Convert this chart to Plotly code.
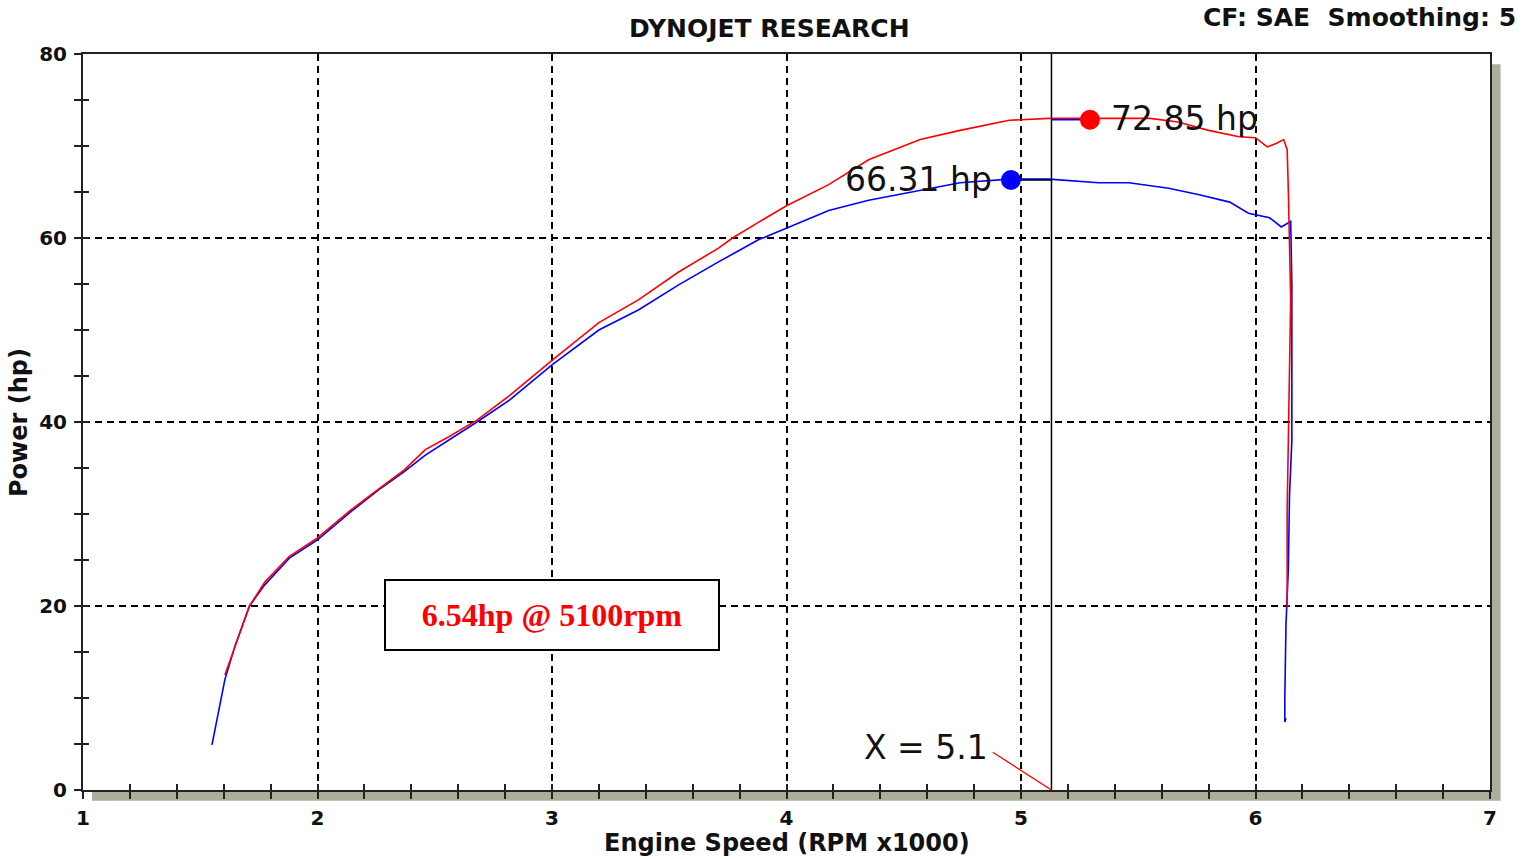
import plotly.graph_objects as go

# ---------------- data ----------------
blue_rpm = [1.55, 1.605, 1.65, 1.71, 1.775, 1.88, 2.0, 2.14, 2.27, 2.37, 2.46, 2.56, 2.68, 2.82,
            3.0, 3.2, 3.37, 3.54, 3.71, 3.88, 4.0, 4.18, 4.35, 4.57, 4.74, 4.95, 5.12, 5.33,
            5.46, 5.63, 5.76, 5.89, 5.97, 6.06, 6.11, 6.15, 6.155, 6.155, 6.145, 6.14, 6.13,
            6.125, 6.125, 6.13]
blue_hp = [4.9, 12.0, 15.8, 20.0, 22.3, 25.2, 27.2, 30.2, 32.8, 34.6, 36.4, 38.0, 40.0, 42.4,
           46.2, 50.0, 52.2, 54.9, 57.4, 59.8, 61.1, 63.0, 64.1, 65.2, 66.0, 66.4, 66.4, 66.0,
           66.0, 65.4, 64.7, 63.9, 62.7, 62.2, 61.2, 61.8, 55.0, 38.0, 32.0, 24.0, 18.0,
           10.0, 7.4, 7.8]

red_rpm = [1.605, 1.71, 1.775, 1.88, 2.0, 2.14, 2.27, 2.37, 2.46, 2.56, 2.68, 2.82, 3.0, 3.2,
           3.37, 3.54, 3.71, 3.77, 3.88, 4.0, 4.18, 4.35, 4.57, 4.74, 4.95, 5.12, 5.29, 5.55,
           5.67, 5.8, 5.93, 6.0, 6.05, 6.09, 6.12, 6.135, 6.14, 6.15, 6.14, 6.135, 6.135, 6.145]
red_hp = [12.5, 20.0, 22.6, 25.4, 27.4, 30.4, 32.9, 34.8, 37.0, 38.4, 40.2, 42.9, 46.7, 50.8,
          53.3, 56.3, 58.9, 60.0, 61.7, 63.5, 65.8, 68.5, 70.7, 71.7, 72.8, 73.0, 73.0, 73.0,
          72.6, 71.7, 71.0, 70.9, 69.9, 70.3, 70.7, 69.6, 65.2, 53.3, 38.0, 30.4, 20.0, 20.0]

peak_blue = (4.957, 66.31)
peak_red = (5.294, 72.85)
cursor_x = 5.13
cursor_label = "X = 5.1"
box_text = "6.54hp @ 5100rpm"
x_ticks = [1, 2, 3, 4, 5, 6, 7]
y_ticks = [0, 20, 40, 60, 80]

SHADOW = "#ADAD9B"
INK = "#111111"
tickfont = dict(family="DejaVu Sans", size=20, color=INK, weight="bold")
labelfont = dict(family="DejaVu Sans", size=33, color=INK)

fig = go.Figure()
fig.add_trace(go.Scatter(x=blue_rpm, y=blue_hp, mode="lines",
                         line=dict(color="#0000FF", width=1.6), hoverinfo="skip"))
fig.add_trace(go.Scatter(x=red_rpm, y=red_hp, mode="lines",
                         line=dict(color="#FF0000", width=1.6), hoverinfo="skip"))
# leader lines from peak markers to the cursor
fig.add_trace(go.Scatter(x=[peak_blue[0], cursor_x], y=[peak_blue[1], peak_blue[1]], mode="lines",
                         line=dict(color="black", width=1.5), hoverinfo="skip"))
fig.add_trace(go.Scatter(x=[cursor_x, peak_red[0]], y=[peak_red[1], peak_red[1]], mode="lines",
                         line=dict(color="#0000FF", width=1.5), hoverinfo="skip"))
fig.add_trace(go.Scatter(x=[peak_blue[0]], y=[peak_blue[1]], mode="markers",
                         marker=dict(color="#0000FF", size=20), hoverinfo="skip"))
fig.add_trace(go.Scatter(x=[peak_red[0]], y=[peak_red[1]], mode="markers",
                         marker=dict(color="#FF0000", size=20), hoverinfo="skip"))
# helper trace on overlay axes (for crossing tick marks)
fig.add_trace(go.Scatter(x=[], y=[], xaxis="x2", yaxis="y2", hoverinfo="skip"))

common_x = dict(range=[1, 7], tickvals=x_ticks, zeroline=False, fixedrange=True)
common_y = dict(range=[0, 80], tickvals=y_ticks, zeroline=False, fixedrange=True)
GRID = dict(showgrid=True, gridcolor="black", griddash="7px,5px", gridwidth=1.6)

fig.update_layout(
    width=1538, height=859,
    margin=dict(l=83, r=48, t=54, b=69),
    paper_bgcolor="white", plot_bgcolor="rgba(0,0,0,0)",
    showlegend=False,
    xaxis=dict(**common_x, **GRID,
               showline=True, linecolor="#222", linewidth=2, mirror=True,
               ticks="outside", ticklen=7, tickwidth=2, tickcolor="#222",
               minor=dict(dtick=0.2, ticks="outside", ticklen=7, tickwidth=2, tickcolor="#222"),
               tickfont=tickfont, ticklabelstandoff=2),
    yaxis=dict(**common_y, **GRID,
               showline=True, linecolor="#222", linewidth=2, mirror=True,
               ticks="outside", ticklen=7, tickwidth=2, tickcolor="#222",
               minor=dict(dtick=5, ticks="outside", ticklen=7, tickwidth=2, tickcolor="#222"),
               tickfont=tickfont, ticklabelstandoff=3),
    xaxis2=dict(**common_x, overlaying="x", anchor="y2", side="bottom", showgrid=False,
                showticklabels=False, ticks="inside", ticklen=6, tickwidth=2, tickcolor="#222",
                minor=dict(dtick=0.2, ticks="inside", ticklen=6, tickwidth=2, tickcolor="#222")),
    yaxis2=dict(**common_y, overlaying="y", anchor="x2", side="left", showgrid=False,
                showticklabels=False, ticks="inside", ticklen=6, tickwidth=2, tickcolor="#222",
                minor=dict(dtick=5, ticks="inside", ticklen=6, tickwidth=2, tickcolor="#222")),
)

# frame shadow, white plot area
fig.add_shape(type="rect", xref="paper", yref="paper", x0=0.0064, x1=1.0075, y0=-0.0145, y1=0.986,
              fillcolor=SHADOW, line=dict(width=0), layer="below")
fig.add_shape(type="rect", xref="paper", yref="paper", x0=0, x1=1, y0=0, y1=1,
              fillcolor="white", line=dict(width=0), layer="below")
# cursor line
fig.add_shape(type="line", xref="x", yref="paper", x0=cursor_x, x1=cursor_x, y0=0, y1=1,
              line=dict(color="black", width=1.5))
fig.add_shape(type="line", xref="x", yref="y", x0=4.88, y0=4.1, x1=cursor_x, y1=0,
              line=dict(color="#FF0000", width=1.3))

ann = [
    dict(x=peak_red[0], y=peak_red[1], xref="x", yref="y", text=f"{peak_red[1]:.2f} hp",
         xanchor="left", yanchor="middle", xshift=19, yshift=1, font=labelfont),
    dict(x=peak_blue[0], y=peak_blue[1], xref="x", yref="y", text=f"{peak_blue[1]:.2f} hp",
         xanchor="right", yanchor="middle", xshift=-17, yshift=0, font=labelfont),
    dict(x=4.88, y=4.1, xref="x", yref="y", text=cursor_label, xanchor="right", yanchor="middle",
         xshift=-3, yshift=5, font=labelfont),
    dict(x=3.0, y=19.0, xref="x", yref="y", text=f"<b>{box_text}</b>", xanchor="center",
         yanchor="middle", width=332, height=68, bordercolor="black", borderwidth=2, borderpad=0,
         bgcolor="white", font=dict(family="Liberation Serif", size=32, color="#FF0000")),
    dict(x=0.488, y=1.0353, xref="paper", yref="paper", text="<b>DYNOJET RESEARCH</b>",
         xanchor="center", yanchor="middle",
         font=dict(family="DejaVu Sans", size=25, color=INK)),
    dict(x=1.0199, y=1.049, xref="paper", yref="paper", text="<b>CF: SAE&nbsp;&nbsp;Smoothing: 5</b>",
         xanchor="right", yanchor="middle",
         font=dict(family="DejaVu Sans", size=25, color=INK)),
    dict(x=0.5, y=-0.0715, xref="paper", yref="paper", text="<b>Engine Speed (RPM x1000)</b>",
         xanchor="center", yanchor="middle",
         font=dict(family="DejaVu Sans", size=24, color=INK)),
    dict(x=-0.0455, y=0.5, xref="paper", yref="paper", text="<b>Power (hp)</b>", textangle=-90,
         xanchor="center", yanchor="middle",
         font=dict(family="DejaVu Sans", size=24, color=INK)),
]
for a in ann:
    fig.add_annotation(showarrow=False, **a)

fig.write_html("out.html", config={"displayModeBar": False},
               post_script="document.body.style.margin='0px';")
